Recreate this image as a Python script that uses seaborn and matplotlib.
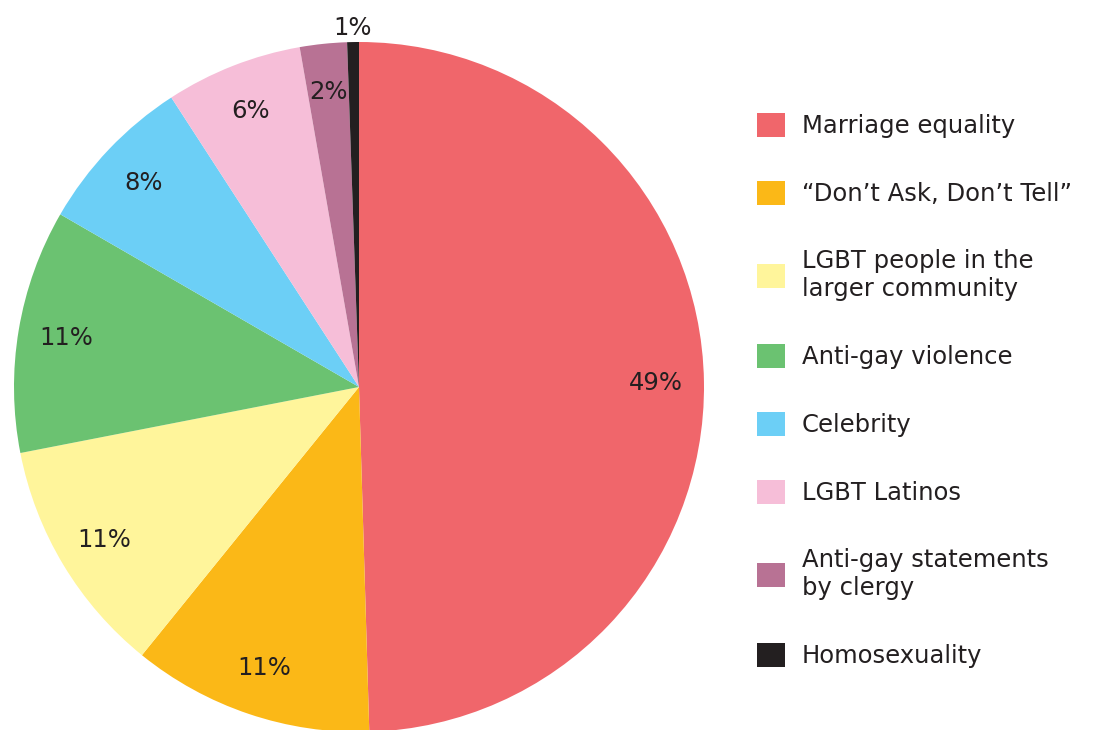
import seaborn as sns
import matplotlib.pyplot as plt
from matplotlib.patches import Patch

categories = ["Marriage equality", "\u201cDon\u2019t Ask, Don\u2019t Tell\u201d",
              "LGBT people in the\nlarger community", "Anti-gay violence",
              "Celebrity", "LGBT Latinos", "Anti-gay statements\nby clergy",
              "Homosexuality"]
# shares; labels are the printed rounded values
shares = [49.5, 11.3, 11.1, 11.4, 7.5, 6.4, 2.2, 0.55]
pct_labels = ["49%", "11%", "11%", "11%", "8%", "6%", "2%", "1%"]
colors = ["#F0666B", "#FBB817", "#FFF59B", "#6BC271",
          "#6CCFF6", "#F6BED8", "#B87294", "#231F20"]

sns.set_style("white")
plt.rcParams['font.family'] = ['DejaVu Sans']
text_color = "#231F20"
fs = 17.5

fig = plt.figure(figsize=(10.94, 7.30), dpi=100)
ax = fig.add_axes([14 / 1094, -2 / 730, 690 / 1094, 690 / 730])

labels_iter = iter(pct_labels)
wedges, _, autotexts = ax.pie(shares, colors=colors, startangle=90, counterclock=False,
                              autopct=lambda p: next(labels_iter), pctdistance=0.86,
                              wedgeprops=dict(linewidth=0),
                              textprops=dict(fontsize=fs, color=text_color))
# smallest slice label sits just outside the pie
x, y = autotexts[-1].get_position()
autotexts[-1].set_position((x * 1.04 / 0.86, y * 1.04 / 0.86))
ax.set_xlim(-1, 1)
ax.set_ylim(-1, 1)
ax.set_aspect('equal')

handles = [Patch(facecolor=c, edgecolor='none') for c in colors]
fig.legend(handles, categories, loc='upper left',
           bbox_to_anchor=(757 / 1094, 1 - 113 / 730), frameon=False,
           fontsize=fs, labelcolor=text_color, borderpad=0, borderaxespad=0,
           handlelength=1.15, handleheight=1.15, handletextpad=0.7,
           labelspacing=1.76)

plt.savefig("out.png", dpi=100)
